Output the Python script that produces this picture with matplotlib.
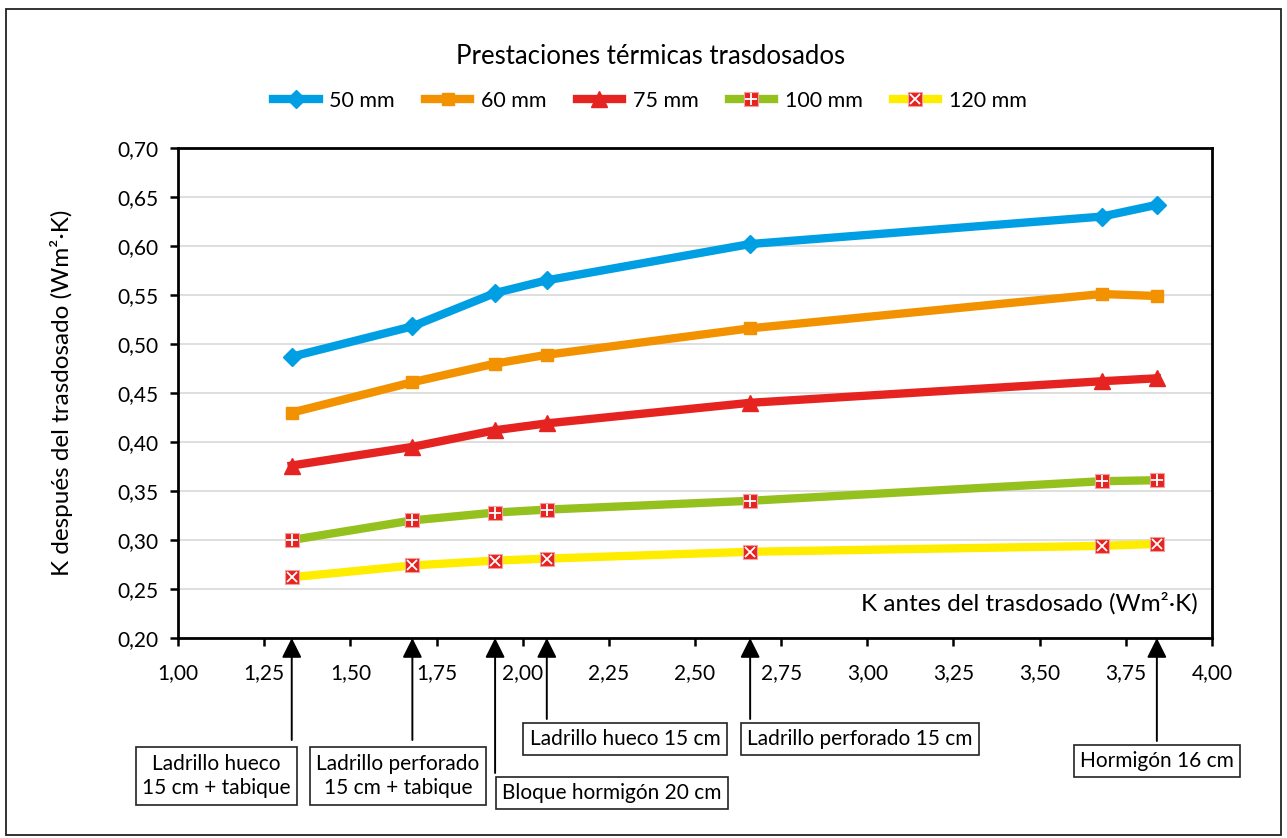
import numpy as np
import matplotlib
matplotlib.use("Agg")
import matplotlib.pyplot as plt
import matplotlib.transforms as mtransforms
from matplotlib.patches import Rectangle
from matplotlib.ticker import FuncFormatter, MultipleLocator

plt.rcParams['font.family'] = ['Lato', 'DejaVu Sans']

# Datos: K antes del trasdosado (eje x) y K despues para cada espesor
k_antes = [1.33, 1.68, 1.92, 2.07, 2.66, 3.68, 3.84]
k_50 = [0.487, 0.518, 0.552, 0.565, 0.602, 0.630, 0.642]
k_60 = [0.430, 0.461, 0.480, 0.489, 0.516, 0.551, 0.549]
k_75 = [0.376, 0.395, 0.412, 0.419, 0.440, 0.462, 0.465]
k_100 = [0.300, 0.320, 0.328, 0.331, 0.340, 0.360, 0.361]
k_120 = [0.262, 0.274, 0.279, 0.281, 0.288, 0.294, 0.296]
series_labels = ["50 mm", "60 mm", "75 mm", "100 mm", "120 mm"]

# Materiales señalados en el eje x
materiales = ["Ladrillo hueco\n15 cm + tabique", "Ladrillo perforado\n15 cm + tabique",
              "Bloque hormigón 20 cm", "Ladrillo hueco 15 cm",
              "Ladrillo perforado 15 cm", "Hormigón 16 cm"]
k_materiales = [1.33, 1.68, 1.92, 2.07, 2.66, 3.84]

W, H = 1287, 838
fig = plt.figure(figsize=(W / 100, H / 100), dpi=100)
ax = fig.add_axes([178 / W, 1 - 638 / H, (1212 - 178) / W, (638 - 148) / H])

# Marco de la figura
fig.patches.append(Rectangle((6 / W, 3 / H), (1281 - 6) / W, (829 - 3) / H,
                             transform=fig.transFigure, fill=False,
                             ec="#222222", lw=1.3))

lw = 6
rojo = "#E52421"
l50, = ax.plot(k_antes, k_50, color="#009FE3", lw=lw, marker="D", ms=9, zorder=5)
l60, = ax.plot(k_antes, k_60, color="#F39200", lw=lw, marker="s", ms=9, zorder=5)
l75, = ax.plot(k_antes, k_75, color=rojo, lw=lw, marker="^", ms=11, zorder=5)
l100, = ax.plot(k_antes, k_100, color="#95C11F", lw=lw, marker="s", ms=10,
                mfc=rojo, mec="#F4A0A0", mew=0.8, zorder=5)
p100, = ax.plot(k_antes, k_100, ls="none", marker="+", ms=9, mec="white",
                mew=1.3, zorder=6)
l120, = ax.plot(k_antes, k_120, color="#FFED00", lw=lw, marker="s", ms=10,
                mfc=rojo, mec="#F4A0A0", mew=0.8, zorder=5)
p120, = ax.plot(k_antes, k_120, ls="none", marker="x", ms=7, mec="white",
                mew=1.3, zorder=6)

ax.set_xlim(1.0, 4.0)
ax.set_ylim(0.20, 0.70)
ax.xaxis.set_major_locator(MultipleLocator(0.25))
ax.yaxis.set_major_locator(MultipleLocator(0.05))
fmt = FuncFormatter(lambda v, p: f"{v:.2f}".replace(".", ","))
ax.xaxis.set_major_formatter(fmt)
ax.yaxis.set_major_formatter(fmt)
ax.grid(axis="y", color="#D9D9D9", lw=1.2, zorder=0)
ax.set_axisbelow(True)
for s in ax.spines.values():
    s.set_linewidth(2)
    s.set_color("black")
ax.tick_params(axis="both", direction="out", length=6, width=1.8, labelsize=15)
ax.tick_params(axis="y", pad=8)
ax.tick_params(axis="x", pad=12)

# primer rótulo del eje x desplazado como en el original
fig.canvas.draw()
lab0 = ax.get_xticklabels()[0]
lab0.set_transform(lab0.get_transform() +
                   mtransforms.ScaledTranslation(0.14, 0, fig.dpi_scale_trans))

ax.text(0.986, 0.071, "K antes del trasdosado (Wm²·K)", transform=ax.transAxes,
        ha="right", va="center", fontsize=17.5)
fig.text(62 / W, 1 - 393 / H, "K después del trasdosado (Wm²·K)", rotation=90,
         ha="center", va="center", fontsize=17.5)
fig.text(651 / W, 1 - 56 / H, "Prestaciones térmicas trasdosados",
         ha="center", va="center", fontsize=18.5)

handles = [l50, l60, l75, (l100, p100), (l120, p120)]
fig.legend(handles, series_labels, loc="center", bbox_to_anchor=(650 / W, 1 - 101 / H),
           ncol=5, frameon=False, fontsize=15.5, handlelength=2.1,
           handletextpad=0.5, columnspacing=1.4)

# Cajas de materiales con flechas al eje
centros = [(216, 776), (398, 776), (612, 793), (625, 739), (860, 739), (1157, 761)]
top_caja = [740, 740, 773, 719, 719, 741]
blend = mtransforms.blended_transform_factory(ax.transData, fig.transFigure)
for nombre, kx, (cx, cy), ty in zip(materiales, k_materiales, centros, top_caja):
    fig.text(cx / W, 1 - cy / H, nombre, ha="center", va="center", fontsize=15,
             linespacing=1.3,
             bbox=dict(boxstyle="square,pad=0.3", fc="white", ec="#222222", lw=1.2))
    ax.annotate("", xy=(kx, 0.20), xycoords="data", xytext=(kx, 1 - ty / H),
                textcoords=blend, annotation_clip=False,
                arrowprops=dict(arrowstyle="-|>,head_length=0.6,head_width=0.3",
                                mutation_scale=20, color="black", lw=1.4,
                                shrinkA=0, shrinkB=0))

fig.savefig("out.png", dpi=100)
